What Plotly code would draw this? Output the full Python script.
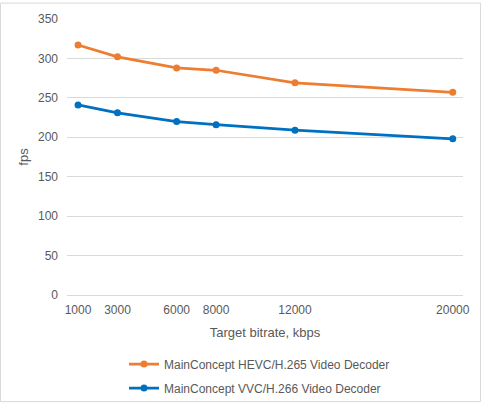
import plotly.graph_objects as go

bitrate = [1000, 3000, 6000, 8000, 12000, 20000]
hevc_fps = [317, 302, 288, 285, 269, 257]
vvc_fps = [241, 231, 220, 216, 209, 198]
x_ticks = [1000, 3000, 6000, 8000, 12000, 20000]
y_ticks = [0, 50, 100, 150, 200, 250, 300, 350]

font_fam = "Liberation Sans, Arial, sans-serif"
gray = "#595959"

fig = go.Figure()
fig.add_trace(go.Scatter(
    x=bitrate, y=hevc_fps, mode="lines+markers",
    name="MainConcept HEVC/H.265 Video Decoder", legendgroup="a",
    line=dict(color="#ED7D31", width=2.75),
    marker=dict(color="#ED7D31", size=7),
))
fig.add_trace(go.Scatter(
    x=bitrate, y=vvc_fps, mode="lines+markers",
    name="MainConcept VVC/H.266 Video Decoder", legendgroup="b",
    line=dict(color="#0070C0", width=2.75),
    marker=dict(color="#0070C0", size=7),
))

L, R, T, B = 67, 19, 17, 111
PW, PH = 482 - L - R, 414 - T - B

fig.update_layout(
    width=482, height=414,
    margin=dict(l=L, r=R, t=T, b=B),
    paper_bgcolor="white", plot_bgcolor="white",
    font=dict(family=font_fam, size=12, color=gray),
    showlegend=True,
    legend=dict(
        orientation="v", x=(124 - L) / PW, xanchor="left", y=-(359 - 302.5) / PH, yanchor="top",
        font=dict(size=12, color=gray), traceorder="grouped", tracegroupgap=5,
        bgcolor="rgba(0,0,0,0)",
    ),
    xaxis=dict(
        range=[440, 20520], tickvals=x_ticks, ticktext=[str(v) for v in x_ticks],
        showgrid=False, zeroline=False, showline=False, ticks="", ticklabelstandoff=6,
        title=dict(text="Target bitrate, kbps", font=dict(size=13, color=gray), standoff=11),
    ),
    yaxis=dict(
        range=[0, 350], tickvals=y_ticks, showgrid=True, gridcolor="#D9D9D9", gridwidth=1,
        zeroline=True, zerolinecolor="#D9D9D9", zerolinewidth=1,
        showline=False, ticks="", ticklabelstandoff=8,
        title=dict(text="fps", font=dict(size=13, color=gray), standoff=6),
    ),
    shapes=[dict(type="rect", xref="paper", yref="paper",
                 x0=-(L - 0.5) / PW, x1=1 + (R - 1.5) / PW,
                 y0=-(B - 0.5) / PH, y1=1 + (T - 0.5) / PH,
                 line=dict(color="#D9D9D9", width=1))],
)

fig.write_html("out.html", config={"displayModeBar": False},
               post_script="document.body.style.margin='0';")
